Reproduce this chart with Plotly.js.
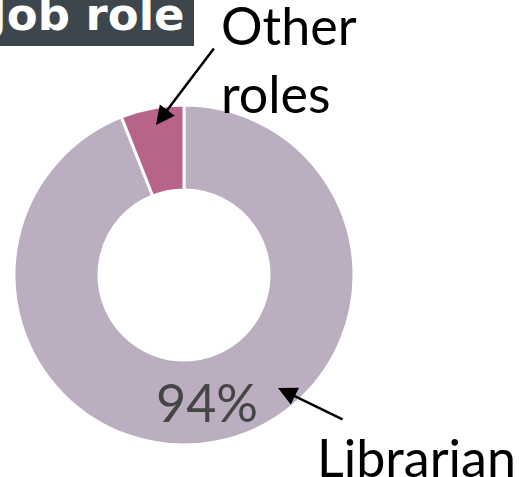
<!DOCTYPE html>
<html>
<head>
<meta charset="utf-8">
<script src="https://cdn.plot.ly/plotly-3.0.1.min.js"></script>
<style>html,body{margin:0;padding:0;background:#fff;}#chart{width:527px;height:477px;}</style>
</head>
<body>
<div id="chart"></div>
<script>
const chartTitle = "Job role";
const labels = ["Librarian", "Other roles"];
const labelText = ["Librarian", "Other<br>roles"];
const values = [94, 6];
const colors = ["#bbaec0", "#b8638a"];

const W = 527, H = 477;
const px = (x) => x / W;
const py = (y) => 1 - y / H;
const total = values.reduce((a, b) => a + b, 0);
const pctText = Math.round(100 * values[0] / total) + "%";

const trace = {
  type: "pie",
  labels: labels,
  values: values,
  sort: false,
  direction: "clockwise",
  rotation: 0,
  hole: 0.5,
  marker: { colors: colors, line: { color: "#ffffff", width: 3 } },
  textinfo: "none",
  hoverinfo: "label+percent",
  showlegend: false,
  domain: { x: [px(14), px(354)], y: [py(445), py(105)] }
};

const lblFont = { family: "Lato, 'Noto Sans', sans-serif", size: 52, color: "#000000" };
const annotations = [
  {
    text: chartTitle, xref: "paper", yref: "paper",
    x: px(186), y: py(42), xanchor: "right", yanchor: "bottom",
    showarrow: false, borderpad: 0,
    font: { family: "'DejaVu Sans', sans-serif", size: 45, color: "#ffffff", weight: "bold" }
  },
  {
    text: pctText, xref: "paper", yref: "paper",
    x: px(207), y: py(402), xanchor: "center", yanchor: "middle",
    showarrow: false,
    font: { family: "Lato, 'Noto Sans', sans-serif", size: 52, color: "#454545" }
  },
  {
    text: labelText[1], xref: "paper", yref: "paper",
    x: px(219), y: py(-8), xanchor: "left", yanchor: "top", align: "left",
    showarrow: false, font: lblFont
  },
  {
    text: labelText[0], xref: "paper", yref: "paper",
    x: px(315), y: py(490), xanchor: "left", yanchor: "bottom", align: "left",
    showarrow: false, font: lblFont
  },
  {
    text: "", xref: "paper", yref: "paper",
    x: px(156), y: py(125), showarrow: true, ax: 59, ay: -78,
    arrowhead: 2, arrowsize: 1.5, arrowwidth: 2.5, arrowcolor: "#000000"
  },
  {
    text: "", xref: "paper", yref: "paper",
    x: px(278), y: py(388), showarrow: true, ax: 66, ay: 32,
    arrowhead: 2, arrowsize: 1.5, arrowwidth: 2.5, arrowcolor: "#000000"
  }
];

const shapes = [
  {
    type: "rect", xref: "paper", yref: "paper",
    x0: px(-10), x1: px(194), y0: py(46), y1: py(-10),
    fillcolor: "#3d454d", line: { width: 0 }, layer: "above"
  }
];

const layout = {
  width: W, height: H,
  margin: { l: 0, r: 0, t: 0, b: 0 },
  paper_bgcolor: "#ffffff",
  plot_bgcolor: "#ffffff",
  shapes: shapes,
  annotations: annotations
};

Plotly.newPlot("chart", [trace], layout, { displayModeBar: false, staticPlot: true });
</script>
</body>
</html>
